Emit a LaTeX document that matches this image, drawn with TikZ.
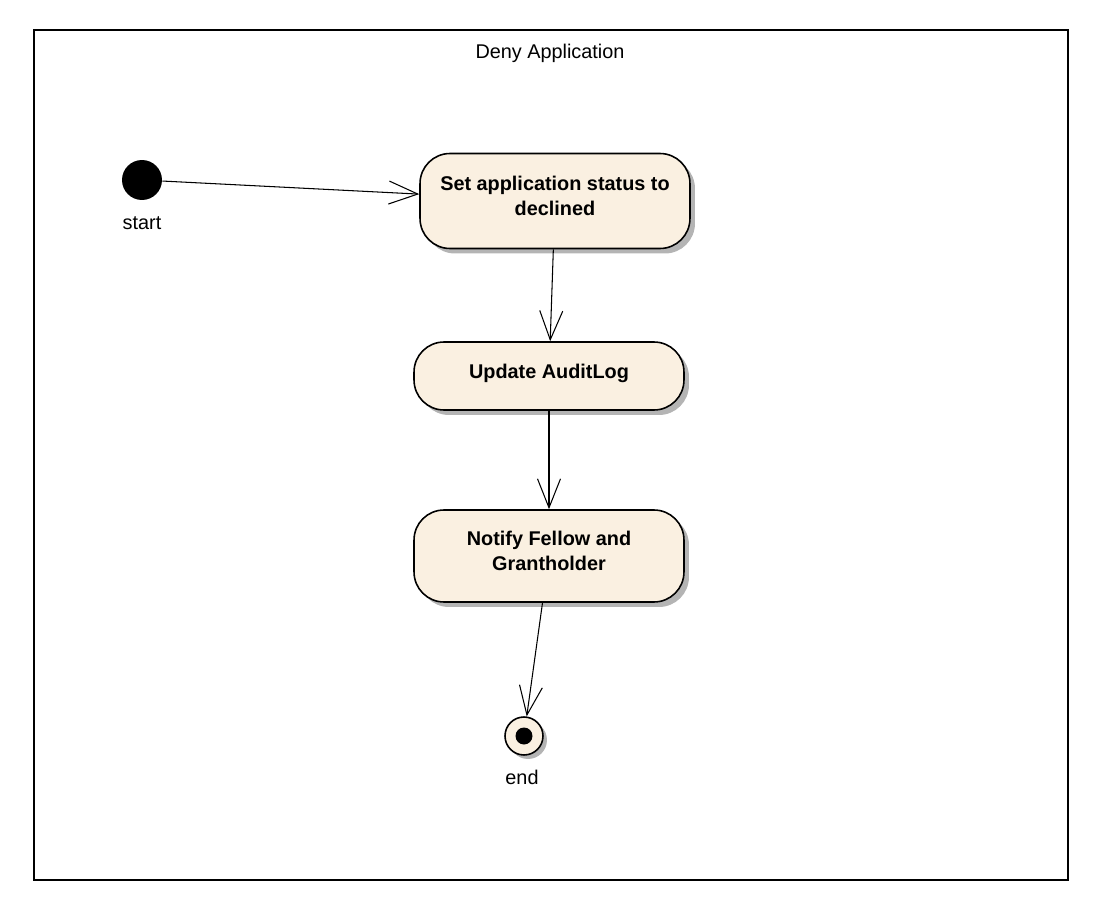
\documentclass[tikz,border=0pt]{standalone}
\usepackage{fontspec}
\setmainfont{Liberation Sans}
\usetikzlibrary{arrows.meta,shadows}

\definecolor{actfill}{RGB}{250,240,225}
\definecolor{shadowgray}{RGB}{180,180,180}

\tikzset{
	action/.style={draw, line width=0.9pt, fill=actfill, rounded corners=0.6cm,
		minimum width=5.4cm, align=center, text depth=0.2cm,
		font=\fontsize{11.3}{14.5}\selectfont\bfseries,
		drop shadow={shadow xshift=0.1cm, shadow yshift=-0.1cm, fill=shadowgray, opacity=1}},
	flow/.style={line width=0.6pt, -{Straight Barb[length=0.58cm,width=0.46cm,line width=0.6pt]}},
	lbl/.style={font=\fontsize{11.3}{13}\selectfont}
}

\begin{document}
\begin{tikzpicture}[x=0.02cm, y=-0.02cm]
	\useasboundingbox (0,0) rectangle (1107,923);
	\draw[line width=0.6pt] (34,30) rectangle (1068,880);
	\node[lbl] (title) at (550,53) {Deny Application};
	% initial and final states
	\node[circle, fill=black, minimum size=0.8cm, inner sep=0pt] (start) at (142,180) {};
	\node[lbl] (startlbl) at (142,223) {start};
	\node[circle, draw, line width=0.9pt, fill=actfill, minimum size=0.76cm, inner sep=0pt,
		drop shadow={shadow xshift=0.08cm, shadow yshift=-0.08cm, fill=shadowgray, opacity=1}] (end) at (524,736) {};
	\fill (end) circle (0.17cm);
	\node[lbl] (endlbl) at (522,777) {end};
	% actions
	\node[action, minimum height=1.9cm] (status) at (555,201) {Set application status to\\declined};
	\node[action, minimum height=1.36cm] (audit) at (549,376) {Update AuditLog};
	\node[action, minimum height=1.84cm] (notify) at (549,556) {Notify Fellow and\\Grantholder};
	% transitions
	\draw[flow] (start) -- (status);
	\draw[flow] (status) -- (audit);
	\draw[flow] (audit) -- (notify);
	\draw[flow] (notify) -- (end);
\end{tikzpicture}
\end{document}
